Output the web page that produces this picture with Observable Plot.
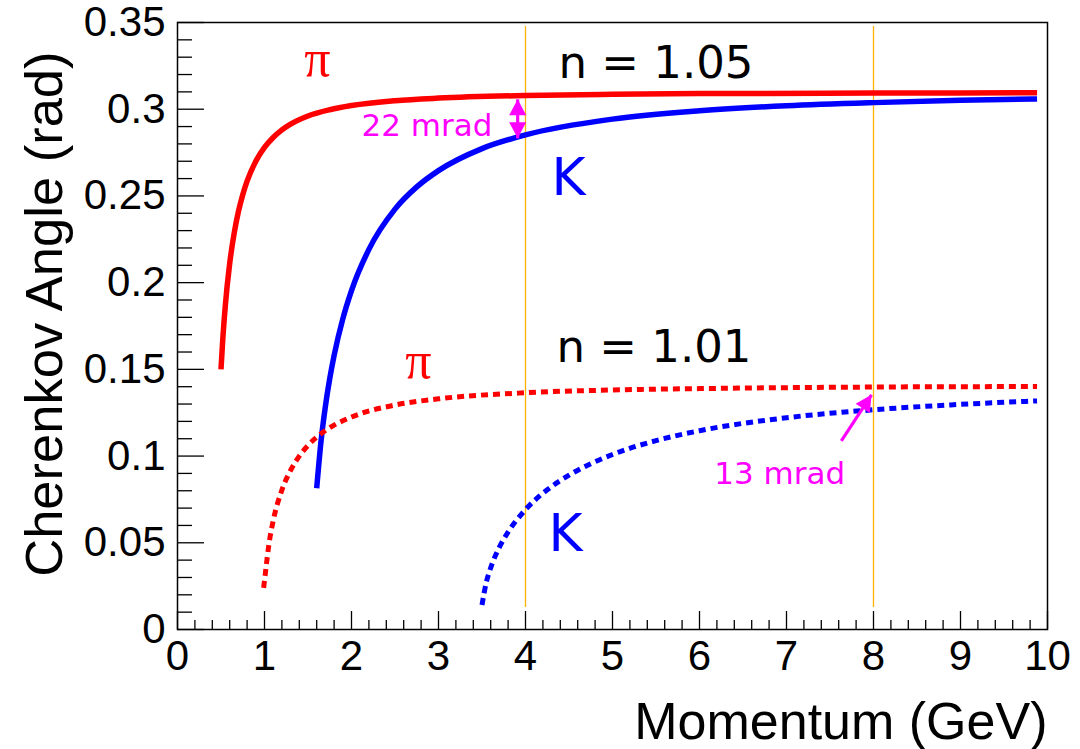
<!DOCTYPE html>
<html>
<head>
<meta charset="utf-8">
<script src="https://cdn.jsdelivr.net/npm/d3@7"></script>
<script src="https://cdn.jsdelivr.net/npm/@observablehq/plot@0.6"></script>
<style>
  html, body { margin: 0; padding: 0; background: #fff; overflow: hidden; }
  svg { display: block; }
</style>
</head>
<body>
<div id="chart"></div>
<script>
// ---- Data ----
// pion, n = 1.05 (solid red)
const pionP105 = [0.5, 0.52, 0.55, 0.6, 0.65, 0.7, 0.75, 0.8, 0.9, 1.0, 1.1, 1.2, 1.3, 1.5, 1.75, 2, 2.5, 3, 4, 5, 6, 8, 9.88];
const pionA105 = [0.150, 0.167, 0.187, 0.2111, 0.2281, 0.2409, 0.2507, 0.2585, 0.2700, 0.2780, 0.2837, 0.2881, 0.2914, 0.2961, 0.2997, 0.3021, 0.3049, 0.3064, 0.3079, 0.3086, 0.3090, 0.3093, 0.3095];
// kaon, n = 1.05 (solid blue)
const kaonP105 = [1.6, 1.65, 1.7, 1.75, 1.8, 1.9, 2.0, 2.2, 2.5, 2.75, 3, 3.5, 4, 5, 6, 7, 8, 9, 9.88];
const kaonA105 = [0.0815, 0.1087, 0.1287, 0.1447, 0.1580, 0.1791, 0.1954, 0.2192, 0.2424, 0.2552, 0.2646, 0.2773, 0.2852, 0.2943, 0.2991, 0.3020, 0.3038, 0.3051, 0.3059];
// pion, n = 1.01 (dotted red)
const pionP101 = [0.99, 1.02, 1.05, 1.1, 1.2, 1.3, 1.4, 1.5, 1.7, 2, 2.5, 3, 4, 5, 6, 8, 9.88];
const pionA101 = [0.0240, 0.0367, 0.0488, 0.0627, 0.0804, 0.0918, 0.1000, 0.1061, 0.1147, 0.1225, 0.1294, 0.1330, 0.1365, 0.1381, 0.1389, 0.1398, 0.1401];
// kaon, n = 1.01 (dotted blue)
const kaonP101 = [3.5, 3.55, 3.6, 3.7, 3.8, 4, 4.25, 4.5, 5, 5.5, 6, 7, 8, 9, 9.88];
const kaonA101 = [0.0141, 0.0273, 0.0356, 0.0475, 0.0562, 0.0691, 0.0806, 0.0890, 0.1009, 0.1089, 0.1146, 0.1221, 0.1267, 0.1298, 0.1318];

// axes
const xTickValues = [0, 1, 2, 3, 4, 5, 6, 7, 8, 9, 10];
const xTickLabels = ["0", "1", "2", "3", "4", "5", "6", "7", "8", "9", "10"];
const yTickValues = [0, 0.05, 0.1, 0.15, 0.2, 0.25, 0.3, 0.35];
const yTickLabels = ["0", "0.05", "0.1", "0.15", "0.2", "0.25", "0.3", "0.35"];
const xTitle = "Momentum (GeV)";
const yTitle = "Cherenkov Angle (rad)";

// reference momenta (orange lines)
const refMomenta = [4, 8];

// annotations
const particleLabels = [
  {text: "π", x: 1.609, y: 0.3189},
  {text: "π", x: 2.770, y: 0.1451}
];
const kaonLabels = [
  {text: "K", x: 4.30, y: 0.2504},
  {text: "K", x: 4.265, y: 0.0455}
];
const indexLabels = [
  {text: "n = 1.05", x: 4.379, y: 0.3178},
  {text: "n = 1.01", x: 4.356, y: 0.1543}
];
const mradLabels = [
  {text: "22 mrad", x: 3.62, y: 0.2844, anchor: "end"},
  {text: "13 mrad", x: 6.17, y: 0.0841, anchor: "start"}
];
const arrowShafts = [
  {x1: 3.91, y1: 0.2832, x2: 3.91, y2: 0.3057},
  {x1: 7.63, y1: 0.1088, x2: 7.977, y2: 0.1353}
];
const arrowHeads = [
  {x: 3.91, y: 0.3057, angle: 0},
  {x: 3.91, y: 0.2832, angle: 180},
  {x: 7.977, y: 0.1353, angle: 33}
];

// ---- build ----
const zip = (P, A) => P.map((p, i) => ({p, a: A[i]}));
const xMinor = d3.range(0, 10.001, 0.2).filter(v => Math.abs(v - Math.round(v)) > 1e-6);
const yMinor = d3.range(0, 0.3501, 0.01).filter(v => Math.abs(v * 20 - Math.round(v * 20)) > 1e-6);

const W = 1080, H = 749;
const sans = "'Liberation Sans', Arial, Helvetica, sans-serif";
const latex = "'DejaVu Sans', sans-serif";
const serif = "'Liberation Serif', 'Times New Roman', serif";
const MAG = "#ff00ff";

const tipTriangle = {
  draw(context) {
    context.moveTo(0, 0);
    context.lineTo(8.5, 16);
    context.lineTo(-8.5, 16);
    context.closePath();
  }
};

const chart = Plot.plot({
  width: W,
  height: H,
  marginLeft: 177,
  marginRight: 33,
  marginTop: 22,
  marginBottom: 120,
  x: {domain: [0, 10], axis: null},
  y: {domain: [0, 0.35], axis: null},
  style: {background: "#fff", overflow: "visible"},
  marks: [
    Plot.ruleX(refMomenta, {x: d => d, y1: 0.0127, y2: 0.3477, stroke: "#ffb000", strokeWidth: 1.3}),
    Plot.line(zip(pionP105, pionA105), {x: "p", y: "a", stroke: "#ff0000", strokeWidth: 5.5, curve: "monotone-x", strokeLinecap: "butt"}),
    Plot.line(zip(kaonP105, kaonA105), {x: "p", y: "a", stroke: "#0000ff", strokeWidth: 5.5, curve: "monotone-x", strokeLinecap: "butt"}),
    Plot.line(zip(pionP101, pionA101), {x: "p", y: "a", stroke: "#ff0000", strokeWidth: 5, curve: "monotone-x", strokeLinecap: "butt", strokeDasharray: "7,5"}),
    Plot.line(zip(kaonP101, kaonA101), {x: "p", y: "a", stroke: "#0000ff", strokeWidth: 5, curve: "monotone-x", strokeLinecap: "butt", strokeDasharray: "7,5"}),
    Plot.link(arrowShafts, {x1: "x1", y1: "y1", x2: "x2", y2: "y2", stroke: MAG, strokeWidth: 3.2}),
    Plot.dot(arrowHeads, {x: "x", y: "y", rotate: "angle", symbol: tipTriangle, fill: MAG, stroke: null, r: 6}),
    Plot.text(particleLabels, {x: "x", y: "y", text: "text", fill: "#ff0000", fontFamily: serif, fontSize: 52, textAnchor: "middle", lineAnchor: "bottom"}),
    Plot.text(kaonLabels, {x: "x", y: "y", text: "text", fill: "#0000ff", fontFamily: latex, fontSize: 52, textAnchor: "start", lineAnchor: "bottom"}),
    Plot.text(indexLabels, {x: "x", y: "y", text: "text", fill: "#000", fontFamily: latex, fontSize: 45, textAnchor: "start", lineAnchor: "bottom"}),
    Plot.text(mradLabels.filter(d => d.anchor === "end"), {x: "x", y: "y", text: "text", fill: MAG, fontFamily: latex, fontSize: 31, textAnchor: "end", lineAnchor: "bottom"}),
    Plot.text(mradLabels.filter(d => d.anchor === "start"), {x: "x", y: "y", text: "text", fill: MAG, fontFamily: latex, fontSize: 31, textAnchor: "start", lineAnchor: "bottom"}),
    // axes: inward ticks
    Plot.ruleX(xTickValues, {x: d => d, y1: 0, y2: 0.01036, stroke: "#000", strokeWidth: 1.3}),
    Plot.ruleX(xMinor, {x: d => d, y1: 0, y2: 0.00518, stroke: "#000", strokeWidth: 1.3}),
    Plot.ruleY(yTickValues, {y: d => d, x1: 0, x2: 0.31, stroke: "#000", strokeWidth: 1.3}),
    Plot.ruleY(yMinor, {y: d => d, x1: 0, x2: 0.172, stroke: "#000", strokeWidth: 1.3}),
    Plot.frame({stroke: "#000", strokeWidth: 1.5}),
    Plot.text(xTickValues, {x: d => d, y: 0, text: (d, i) => xTickLabels[i], dy: 11, lineAnchor: "top", textAnchor: "middle", fontFamily: sans, fontSize: 42, fill: "#000"}),
    Plot.text(yTickValues, {x: 0, y: d => d, text: (d, i) => yTickLabels[i], dx: -12, lineAnchor: "middle", textAnchor: "end", fontFamily: sans, fontSize: 42, fill: "#000"}),
    Plot.text([xTitle], {x: 10, y: 0, text: d => d, dy: 109, lineAnchor: "bottom", textAnchor: "end", fontFamily: sans, fontSize: 52, fill: "#000"}),
    Plot.text([yTitle], {x: -1.322, y: 0.3333, text: d => d, rotate: -90, lineAnchor: "bottom", textAnchor: "end", fontFamily: sans, fontSize: 52.5, fill: "#000"})
  ]
});
document.getElementById("chart").appendChild(chart);
</script>
</body>
</html>
